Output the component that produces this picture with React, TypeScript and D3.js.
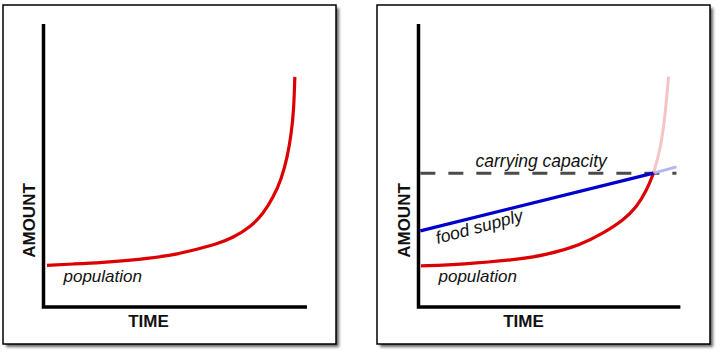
import React from "react";
import * as d3 from "d3";

// Population (left panel): [time, amount]
const populationLeft: [number, number][] = [
  [1.3, 14.7], [11.4, 15.2], [21.6, 15.7], [36.7, 16.8], [48.1, 18.2], [55.7, 19.8],
  [65.9, 22.3], [72.0, 24.6], [78.4, 28.3], [83.3, 33.0], [87.1, 38.9], [90.0, 44.9],
  [92.4, 53.0], [93.9, 61.5], [94.8, 69.6], [95.2, 81.3],
];
// Population (right panel), solid part up to carrying capacity
const populationRightSolid: [number, number][] = [
  [0.9, 14.5], [17.0, 15.1], [36.0, 16.6], [48.6, 18.4], [61.3, 21.9], [70.1, 26.1],
  [77.7, 30.7], [82.7, 35.4], [86.5, 41.3], [89.0, 47.3],
];
// Population (right panel) beyond capacity (faded)
const populationRightFaded: [number, number][] = [
  [89.0, 47.3], [91.6, 55.5], [93.4, 67.2], [94.7, 81.4],
];
const foodSupplySolid: [number, number][] = [[0.7, 26.9], [89.0, 47.3]];
const foodSupplyFaded: [number, number][] = [[89.0, 47.3], [97.7, 49.5]];
const carryingCapacity = 47.3;
const capacityRange: [number, number] = [0.7, 97.7];

const xAxisLabel = "TIME";
const yAxisLabel = "AMOUNT";
const labels = { population: "population", food: "food supply", capacity: "carrying capacity" };

const FONT = "'Liberation Sans', Arial, Helvetica, sans-serif";

function Panel({ px, ax, axisEnd, right }: { px: number; ax: number; axisEnd: number; right: boolean }) {
  const x = d3.scaleLinear().domain([0, 100]).range([ax, ax + 264]);
  const y = d3.scaleLinear().domain([0, 100]).range([307, 24]);
  const line = d3.line<[number, number]>().x((d) => x(d[0])).y((d) => y(d[1])).curve(d3.curveBasis);
  const straight = d3.line<[number, number]>().x((d) => x(d[0])).y((d) => y(d[1]));
  const x0 = x(0);
  const y0 = y(0);
  const fsAngle = -15;
  return (
    <g>
      <rect x={px + 3} y={8} width={333} height={339} fill="#666" filter="url(#blur)" />
      <rect x={px} y={5} width={333} height={339} fill="#fff" stroke="#000" strokeWidth={1.5} />
      <path d={`M${x0},${y(100)} L${x0},${y0} L${x(axisEnd)},${y0}`} fill="none" stroke="#000" strokeWidth={3.5} strokeLinejoin="miter" />
      <text transform={`translate(${x0 - 8.5},${(183 + 258) / 2}) rotate(-90)`} textAnchor="middle" fontFamily={FONT} fontWeight="bold" fontSize={17} fill="#111">{yAxisLabel}</text>
      <text x={x0 + 105} y={327} textAnchor="middle" fontFamily={FONT} fontWeight="bold" fontSize={17} fill="#111">{xAxisLabel}</text>
      {right ? (
        <g>
          <line x1={x(capacityRange[0])} x2={x(capacityRange[1])} y1={y(carryingCapacity)} y2={y(carryingCapacity)} stroke="#4a4a4a" strokeWidth={3} strokeDasharray="15,13" />
          <path d={line(populationRightFaded) || ""} fill="none" stroke="#f5c4c4" strokeWidth={3} />
          <path d={straight(foodSupplyFaded) || ""} fill="none" stroke="#b4b4f2" strokeWidth={3} />
          <path d={line(populationRightSolid) || ""} fill="none" stroke="#dd0000" strokeWidth={3.2} />
          <path d={straight(foodSupplySolid) || ""} fill="none" stroke="#0000cc" strokeWidth={3.2} />
          <text x={x0 + 57} y={166.5} fontFamily={FONT} fontStyle="italic" fontSize={17.5} fill="#111">{labels.capacity}</text>
          <text transform={`translate(${x0 + 19},${244}) rotate(${fsAngle})`} fontFamily={FONT} fontStyle="italic" fontSize={17.5} fill="#111">{labels.food}</text>
          <text x={x0 + 20} y={281.5} fontFamily={FONT} fontStyle="italic" fontSize={17} fill="#111">{labels.population}</text>
        </g>
      ) : (
        <g>
          <path d={line(populationLeft) || ""} fill="none" stroke="#dd0000" strokeWidth={3.2} />
          <text x={x0 + 20} y={281.5} fontFamily={FONT} fontStyle="italic" fontSize={17} fill="#111">{labels.population}</text>
        </g>
      )}
    </g>
  );
}

export default function App() {
  return (
    <svg width={723} height={356} style={{ position: "absolute", left: 0, top: 0, background: "#fff" }}>
      <defs>
        <filter id="blur" x="-10%" y="-10%" width="120%" height="120%">
          <feGaussianBlur stdDeviation={1.8} />
        </filter>
      </defs>
      <rect x={0} y={0} width={723} height={356} fill="#fff" />
      <Panel px={3} ax={43.5} axisEnd={99.8} right={false} />
      <Panel px={377} ax={418.5} axisEnd={99.2} right={true} />
    </svg>
  );
}
